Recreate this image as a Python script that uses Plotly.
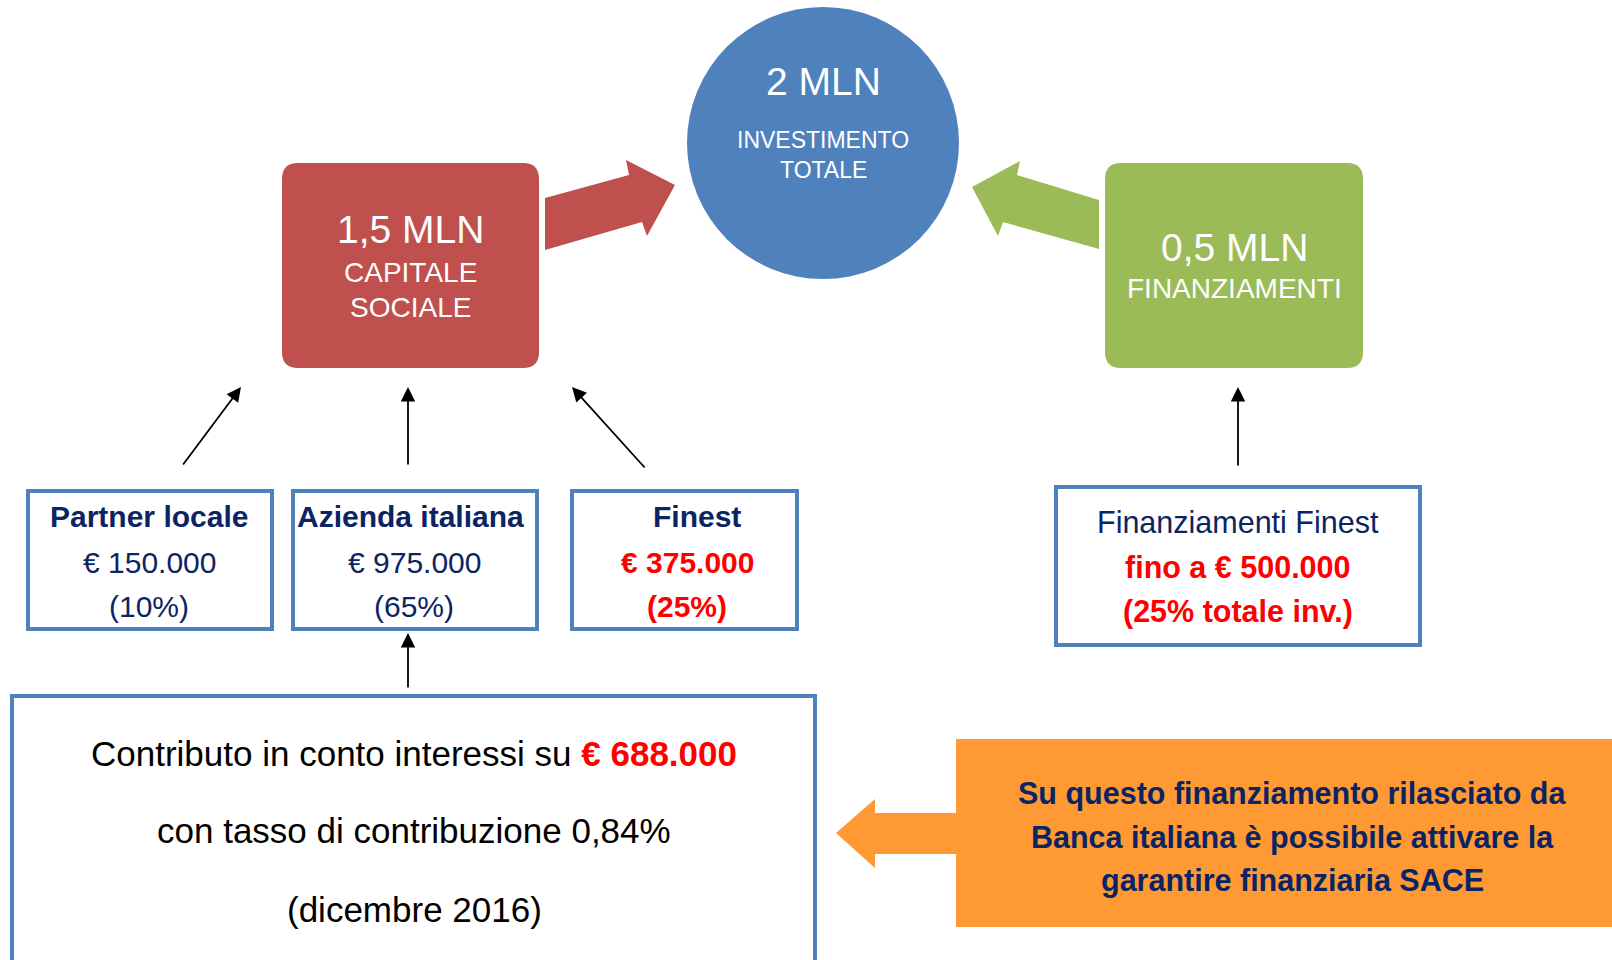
import plotly.graph_objects as go

W, H = 1612, 960
FONT = "Liberation Sans, Arial, sans-serif"
NAVY = "#0B2463"
RED = "#FF0000"
BORDER = "#4F81BD"

# ---- data / texts ----
total_value = "2 MLN"
total_label = ["INVESTIMENTO", "TOTALE"]
equity_value = "1,5 MLN"
equity_label = ["CAPITALE", "SOCIALE"]
loan_value = "0,5 MLN"
loan_label = ["FINANZIAMENTI"]

partners = ["Partner locale", "Azienda italiana", "Finest"]
partner_amounts = ["€ 150.000", "€ 975.000", "€ 375.000"]
partner_shares = ["(10%)", "(65%)", "(25%)"]
partner_highlight = [False, False, True]

loan_lines = ["Finanziamenti Finest", "fino a € 500.000", "(25% totale inv.)"]
contrib_amount = "€ 688.000"
contrib_lines = ["Contributo in conto interessi su ", "con tasso di contribuzione 0,84%", "(dicembre 2016)"]
sace_lines = ["Su questo finanziamento rilasciato da",
              "Banca italiana è possibile attivare la",
              "garantire finanziaria SACE"]

fig = go.Figure()
shapes = []
ann = []


def rrect(x0, y0, x1, y1, r):
    return (f"M {x0+r},{y0} L {x1-r},{y0} Q {x1},{y0} {x1},{y0+r} "
            f"L {x1},{y1-r} Q {x1},{y1} {x1-r},{y1} L {x0+r},{y1} "
            f"Q {x0},{y1} {x0},{y1-r} L {x0},{y0+r} Q {x0},{y0} {x0+r},{y0} Z")


def poly(pts):
    return "M " + " L ".join(f"{x},{y}" for x, y in pts) + " Z"


def text(x, y, s, size, color, bold=False):
    if bold:
        s = f"<b>{s}</b>"
    ann.append(dict(x=x, y=y, xref="x", yref="y", text=s, showarrow=False,
                    xanchor="center", yanchor="middle",
                    font=dict(family=FONT, size=size, color=color)))


def arrow(x0, y0, x1, y1):
    ann.append(dict(x=x1, y=y1, ax=x0, ay=y0, xref="x", yref="y", axref="x", ayref="y",
                    text="", showarrow=True, arrowhead=2, arrowsize=1.6,
                    arrowwidth=1.8, arrowcolor="black", standoff=0))


# red capital box + arrow
shapes.append(dict(type="path", path=rrect(282, 163, 539, 368, 16),
                   fillcolor="#C0504D", line=dict(width=0)))
shapes.append(dict(type="path",
                   path=poly([(545, 198), (629, 175), (626, 160), (675, 185),
                              (647, 236), (642, 222), (545, 250)]),
                   fillcolor="#C0504D", line=dict(width=0)))
text(410, 229, equity_value, 39, "white")
text(410, 272, equity_label[0], 28, "white")
text(410, 307, equity_label[1], 28, "white")

# blue circle
shapes.append(dict(type="circle", x0=687, x1=959, y0=7, y1=279,
                   fillcolor="#4F81BD", line=dict(width=0)))
text(823, 81, total_value, 39, "white")
text(823, 140, total_label[0], 23, "white")
text(823, 170, total_label[1], 23, "white")

# green loan box + arrow
shapes.append(dict(type="path", path=rrect(1105, 163, 1363, 368, 16),
                   fillcolor="#9BBB59", line=dict(width=0)))
shapes.append(dict(type="path",
                   path=poly([(1099, 200), (1017, 175), (1020, 161), (972, 187),
                              (998, 236), (1003, 222), (1099, 249)]),
                   fillcolor="#9BBB59", line=dict(width=0)))
text(1234, 247, loan_value, 39, "white")
text(1234, 288, loan_label[0], 28, "white")

# partner boxes
box_x = [(28, 272), (293, 537), (572, 797)]
title_cx = [149, 410, 697]
value_cx = [149, 414, 687]
for (x0, x1), tcx, vcx, name, amt, shr, hl in zip(box_x, title_cx, value_cx, partners,
                                                  partner_amounts, partner_shares,
                                                  partner_highlight):
    shapes.append(dict(type="rect", x0=x0, x1=x1, y0=491, y1=629,
                       line=dict(color=BORDER, width=4), fillcolor="white"))
    text(tcx, 516, name, 30, NAVY, bold=True)
    col = RED if hl else NAVY
    text(vcx, 562, amt, 30, col, bold=hl)
    text(vcx, 606, shr, 30, col, bold=hl)

arrow(182, 466, 241, 387)
arrow(408, 466, 408, 387)
arrow(646, 469, 572, 387)

# Finest loan box
shapes.append(dict(type="rect", x0=1056, x1=1420, y0=487, y1=645,
                   line=dict(color=BORDER, width=4), fillcolor="white"))
text(1238, 522, loan_lines[0], 30.5, NAVY)
text(1238, 567, loan_lines[1], 30.5, RED, bold=True)
text(1238, 611, loan_lines[2], 30.5, RED, bold=True)
arrow(1238, 467, 1238, 387)

# contribution box
shapes.append(dict(type="rect", x0=12, x1=815, y0=696, y1=985,
                   line=dict(color=BORDER, width=4), fillcolor="white"))
text(414, 753, contrib_lines[0] + f"<b><span style='color:{RED}'>{contrib_amount}</span></b>",
     35, "black")
text(414, 830, contrib_lines[1], 35, "black")
text(414, 909, contrib_lines[2], 35, "black")
arrow(408, 689, 408, 633)

# orange SACE box + arrow
shapes.append(dict(type="rect", x0=956, x1=1640, y0=739, y1=927,
                   fillcolor="#FF9933", line=dict(width=0)))
shapes.append(dict(type="path",
                   path=poly([(836, 833), (875, 799), (875, 813), (957, 813),
                              (957, 854), (875, 854), (875, 868)]),
                   fillcolor="#FF9933", line=dict(width=0)))
for yy, line in zip([793, 837, 880], sace_lines):
    text(1292, yy, line, 30.5, NAVY, bold=True)

fig.update_layout(
    width=W, height=H, margin=dict(l=0, r=0, t=0, b=0),
    paper_bgcolor="white", plot_bgcolor="white",
    xaxis=dict(range=[0, W], visible=False, fixedrange=True),
    yaxis=dict(range=[H, 0], visible=False, fixedrange=True),
    shapes=shapes, annotations=ann, showlegend=False,
)
fig.write_html("out.html", config={"displayModeBar": False},
               post_script="document.body.style.margin='0';document.body.style.overflow='hidden';")
